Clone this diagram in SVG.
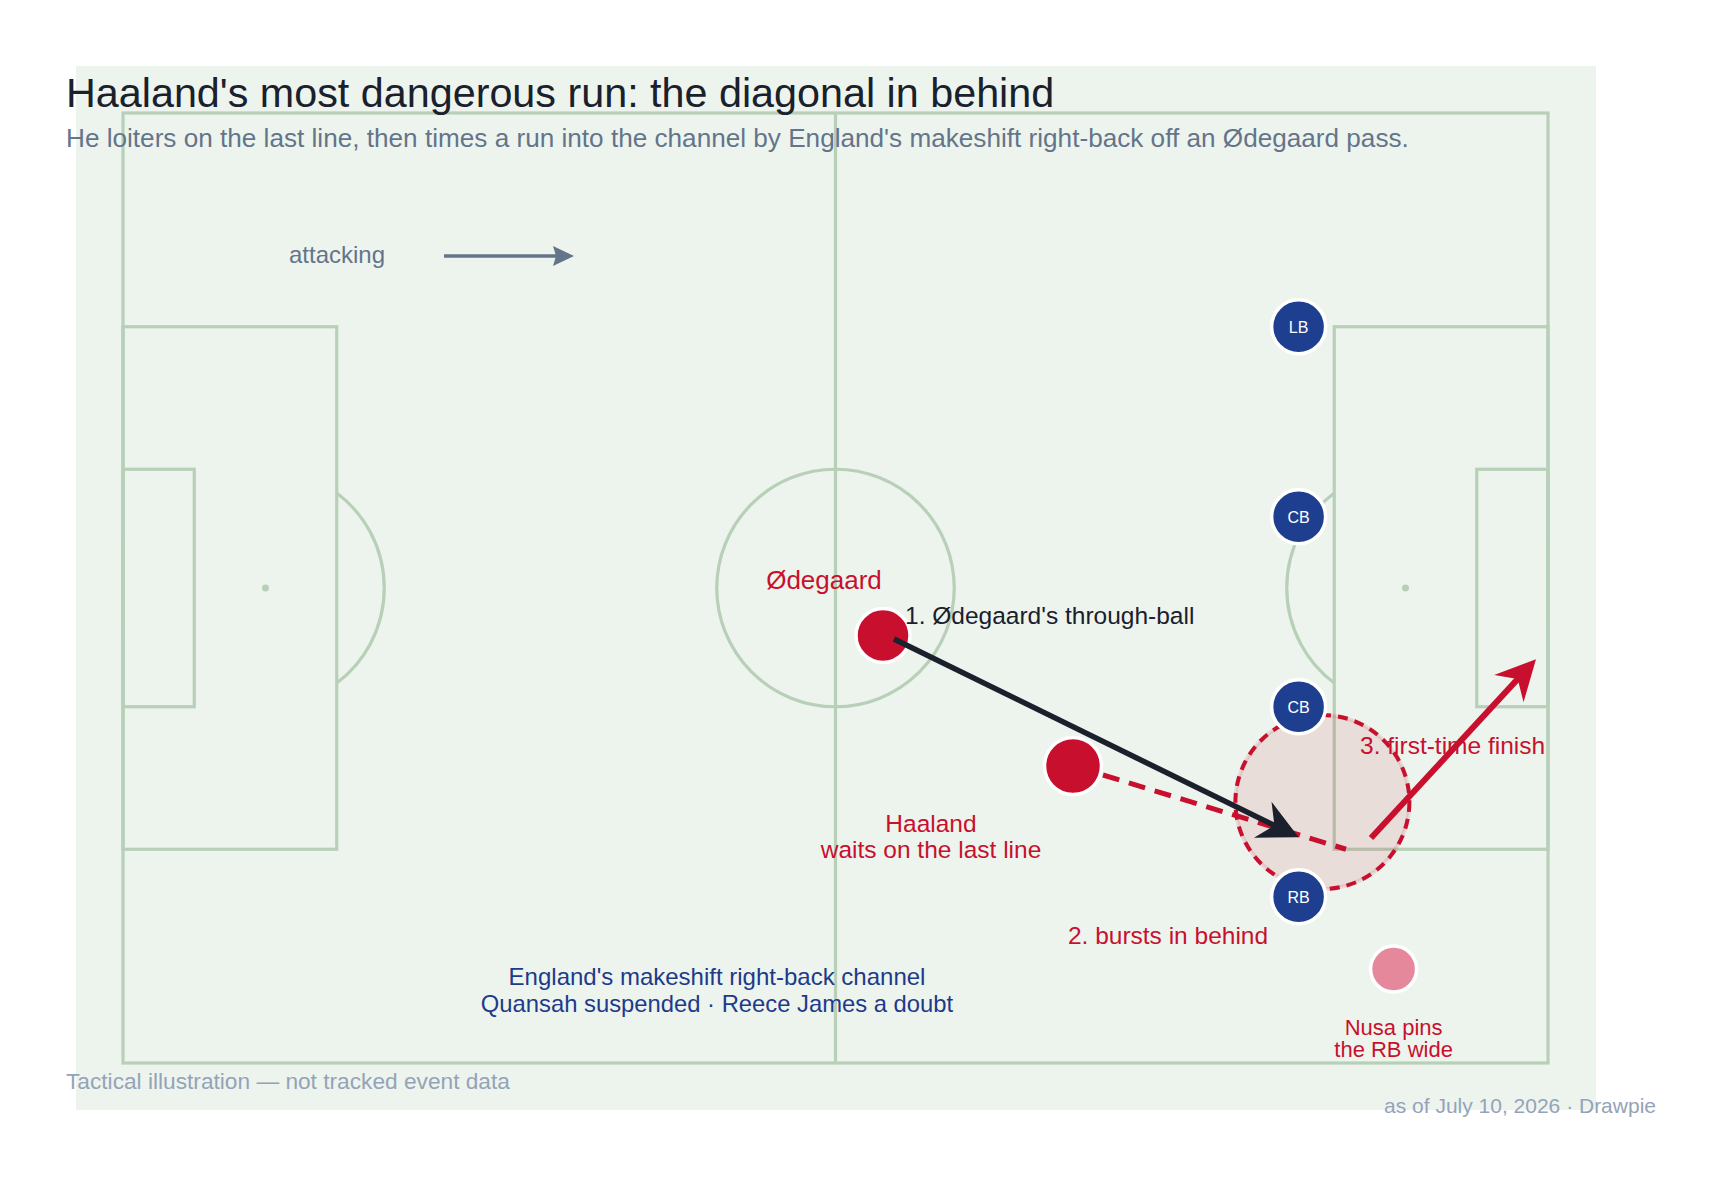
<svg xmlns="http://www.w3.org/2000/svg" width="1722" height="1184" viewBox="0 0 1722 1184">
<style>
text{font-family:"Liberation Sans",Arial,Helvetica,sans-serif}
.pl{fill:none;stroke:#b8cfb8;stroke-width:3.2}
.spot{fill:#b8cfb8}
.def{fill:#1e3f8f;stroke:#fff;stroke-width:3.5}
.dl{fill:#fff;font-size:16px;text-anchor:middle}
.red{fill:#c8102e}
.ann{font-size:24.5px}
</style>
<defs>
<marker id="headDark" markerUnits="userSpaceOnUse" orient="auto" viewBox="-20 -25 50 50" markerWidth="50" markerHeight="50" refX="0" refY="0">
<path d="M24,0 L-16,-20 L-3,0 L-16,20 Z" fill="#1a202c"/>
</marker>
<marker id="headRed" markerUnits="userSpaceOnUse" orient="auto" viewBox="-20 -25 50 50" markerWidth="50" markerHeight="50" refX="0" refY="0">
<path d="M24,0 L-16,-20 L-3,0 L-16,20 Z" fill="#c8102e"/>
</marker>
<marker id="headSlate" markerUnits="userSpaceOnUse" orient="auto" viewBox="-10 -12 30 24" markerWidth="30" markerHeight="24" refX="0" refY="0">
<path d="M16,0 L-5,-10 L-2,0 L-5,10 Z" fill="#64748b"/>
</marker>
</defs>
<rect width="1722" height="1184" fill="#fff"/>
<rect x="76" y="66" width="1520" height="1044" fill="#edf4ed"/>
<g id="pitch">
<rect class="pl" x="123" y="113" width="1425" height="950"/>
<line class="pl" x1="835.5" y1="113" x2="835.5" y2="1063"/>
<circle class="pl" cx="835.5" cy="588" r="118.75"/>
<rect class="pl" x="123" y="326.75" width="213.75" height="522.5"/>
<rect class="pl" x="123" y="469.25" width="71.25" height="237.5"/>
<path class="pl" d="M336.75,493 A118.75,118.75 0 0 1 336.75,683"/>
<rect class="pl" x="1334.25" y="326.75" width="213.75" height="522.5"/>
<rect class="pl" x="1476.75" y="469.25" width="71.25" height="237.5"/>
<path class="pl" d="M1334.25,493 A118.75,118.75 0 0 0 1334.25,683"/>
<line class="pl" x1="123" y1="539" x2="123" y2="637" stroke-width="7"/>
<line class="pl" x1="1548" y1="539" x2="1548" y2="637" stroke-width="7"/>
<circle class="spot" cx="265.5" cy="588" r="3.5"/>
<circle class="spot" cx="1405.5" cy="588" r="3.5"/>
</g>
<g id="zone">
<circle cx="1322.4" cy="802" r="87" fill="#c8102e" fill-opacity="0.1" stroke="#c8102e" stroke-opacity="0.12" stroke-width="4"/>
<circle cx="1322.4" cy="802" r="87" fill="none" stroke="#c8102e" stroke-width="4" stroke-dasharray="10 7"/>
</g>
<g id="attack-direction">
<text x="289" y="263" font-size="24" fill="#64748b">attacking</text>
<line x1="444" y1="256" x2="558" y2="256" stroke="#64748b" stroke-width="3.5" marker-end="url(#headSlate)"/>
</g>
<g id="node-lb"><circle class="def" cx="1298.6" cy="326.75" r="27"/><text class="dl" x="1298.6" y="332.5">LB</text></g>
<g id="node-cb1"><circle class="def" cx="1298.6" cy="516.75" r="27"/><text class="dl" x="1298.6" y="522.5">CB</text></g>
<g id="node-cb2"><circle class="def" cx="1298.6" cy="706.75" r="27"/><text class="dl" x="1298.6" y="712.5">CB</text></g>
<g id="node-rb"><circle class="def" cx="1298.6" cy="896.75" r="27"/><text class="dl" x="1298.6" y="902.5">RB</text></g>
<g id="node-odegaard"><circle cx="883" cy="635.5" r="27" fill="#c8102e" stroke="#fff" stroke-width="3.5"/><text x="824" y="589" font-size="26" text-anchor="middle" class="red">Ødegaard</text></g>
<g id="node-haaland"><circle cx="1073" cy="766" r="28.5" fill="#c8102e" stroke="#fff" stroke-width="3.5"/><text class="red ann" text-anchor="middle" x="931" y="831.5">Haaland</text><text class="red ann" text-anchor="middle" x="931" y="858">waits on the last line</text></g>
<g id="node-nusa"><circle cx="1393.6" cy="969" r="23" fill="#e6889c" stroke="#fff" stroke-width="3.5"/><text class="red" font-size="22" text-anchor="middle" x="1393.6" y="1035">Nusa pins</text><text class="red" font-size="22" text-anchor="middle" x="1393.6" y="1057.3">the RB wide</text></g>
<g id="connectors">
<line x1="1103" y1="775" x2="1346" y2="849.25" stroke="#c8102e" stroke-width="5" stroke-dasharray="17 10"/>
<line x1="894" y1="639" x2="1277.1" y2="826.8" stroke="#1a202c" stroke-width="5.5" marker-end="url(#headDark)"/>
<line x1="1371" y1="838" x2="1519.7" y2="676.9" stroke="#c8102e" stroke-width="6" marker-end="url(#headRed)"/>
</g>
<g id="labels">
<text class="ann" x="905" y="624" fill="#1a202c">1. Ødegaard's through-ball</text>
<text class="red ann" x="1168" y="944" text-anchor="middle">2. bursts in behind</text>
<text class="red ann" x="1360" y="754">3. first-time finish</text>
<text x="717" y="985" font-size="24" text-anchor="middle" fill="#1e3a8a">England's makeshift right-back channel</text>
<text x="717" y="1011.7" font-size="23.8" text-anchor="middle" fill="#1e3a8a">Quansah suspended · Reece James a doubt</text>
</g>
<g id="titles">
<text x="66" y="106.7" font-size="41.3" fill="#1a202c">Haaland's most dangerous run: the diagonal in behind</text>
<text x="66" y="146.5" font-size="26.15" fill="#64748b">He loiters on the last line, then times a run into the channel by England's makeshift right-back off an Ødegaard pass.</text>
<text x="66" y="1089" font-size="22.7" fill="#94a3b8">Tactical illustration — not tracked event data</text>
<text x="1656" y="1113" font-size="21" text-anchor="end" fill="#94a3b8">as of July 10, 2026 · Drawpie</text>
</g>
</svg>
